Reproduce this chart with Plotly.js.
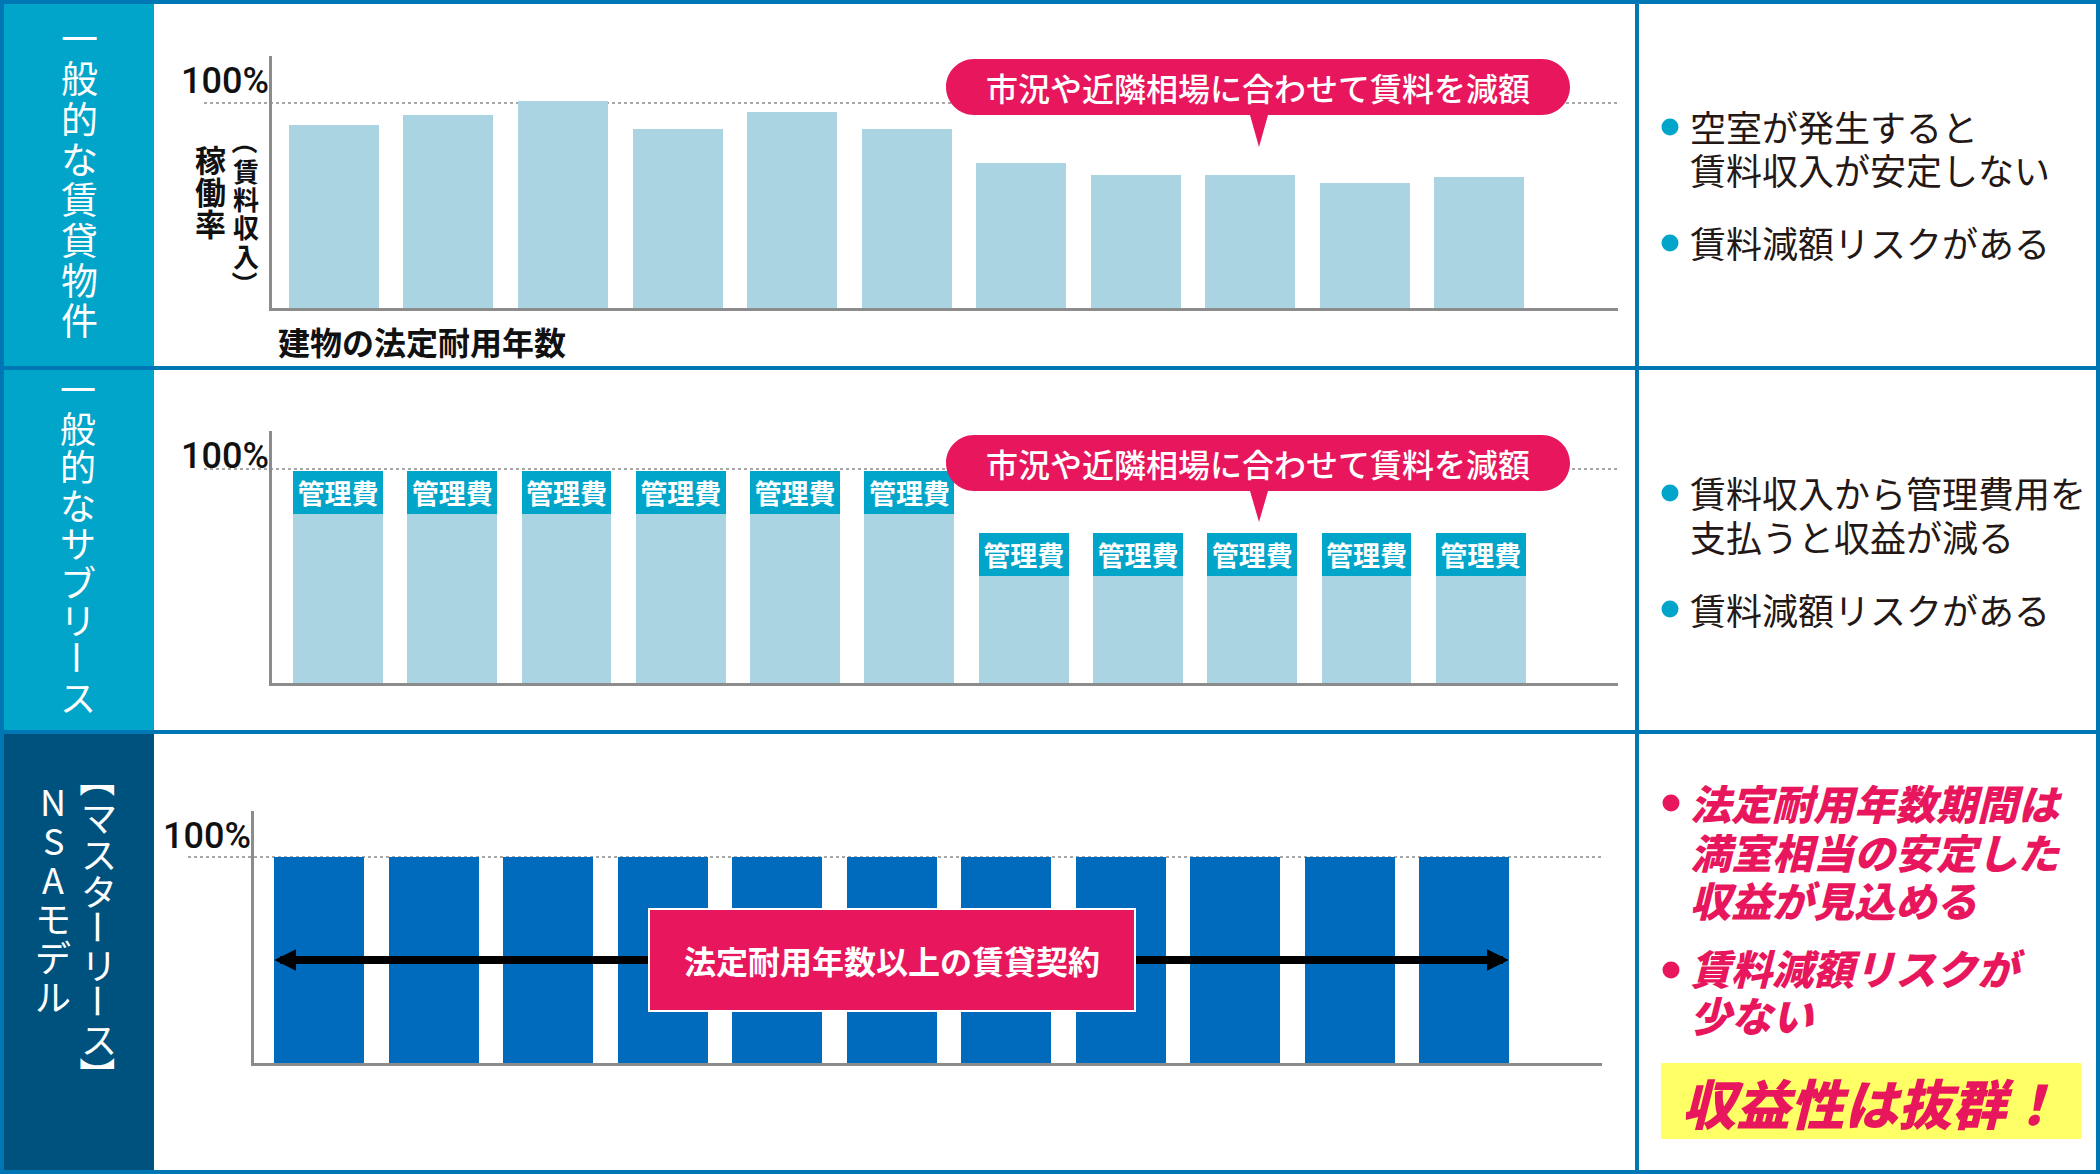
<!DOCTYPE html>
<html>
<head>
<meta charset="utf-8">
<script src="https://cdn.plot.ly/plotly-3.0.1.min.js"></script>
<style>
html,body{margin:0;padding:0;background:#fff;}
#chart{width:2100px;height:1174px;}
</style>
</head>
<body>
<div id="chart"></div>
<script>
// ---------------- data ----------------
const periods = ['1','2','3','4','5','6','7','8','9','10','11'];
const occupancyGeneral = [89.3, 94.1, 101, 87.3, 95.4, 87.3, 70.7, 64.9, 64.9, 61.0, 63.9];
const subleaseNet = [79, 79, 79, 79, 79, 79, 50, 50, 50, 50, 50];
const subleaseFee = [20, 20, 20, 20, 20, 20, 20, 20, 20, 20, 20];
const feeLabel = '管理費';
const masterLease = [100, 100, 100, 100, 100, 100, 100, 100, 100, 100, 100];

const rowTitles = ['一般的な賃貸物件', '一般的なサブリース', '【マスターリース】', 'NSAモデル'];
const yLabelMain = '稼働率';
const yLabelSub = '（賃料収入）';
const xLabel = '建物の法定耐用年数';
const tickLabel100 = '100%';
const bubbleText = '市況や近隣相場に合わせて賃料を減額';
const contractText = '法定耐用年数以上の賃貸契約';
const notes1 = ['空室が発生すると', '賃料収入が安定しない', '賃料減額リスクがある'];
const notes2 = ['賃料収入から管理費用を', '支払うと収益が減る', '賃料減額リスクがある'];
const notes3 = ['法定耐用年数期間は', '満室相当の安定した', '収益が見込める', '賃料減額リスクが', '少ない'];
const highlight = '収益性は抜群！';

// ---------------- style ----------------
const W = 2100, H = 1174;
const JP = '"Noto Sans CJK JP", "Noto Sans", sans-serif';
const C = {
  border: '#0077B5', teal: '#00A5C9', navy: '#00527E', light: '#AAD4E1',
  dark: '#006BBD', pink: '#E8175D', axis: '#8C8C8C', dot: '#A8A8A8', ink: '#231815', yellow: '#FFFF66'
};
const px = v => v / W;
const py = v => 1 - v / H;

// panel geometry (pixels)
const P1 = {x0: 272, x1: 1618, y0: 56, y1: 308, xr: [-0.54, 11.21], yr: [0, 122.9]};
const P2 = {x0: 272, x1: 1618, y0: 431, y1: 683, xr: [-0.577, 11.2], yr: [0, 117.8]};
const P3 = {x0: 254, x1: 1602, y0: 811, y1: 1063, xr: [-0.568, 11.205], yr: [0, 122.3]};
const yPix = (P, v) => P.y1 - (v - P.yr[0]) / (P.yr[1] - P.yr[0]) * (P.y1 - P.y0);

const barW = 0.786;
const traces = [
  {type: 'bar', x: periods, y: occupancyGeneral, xaxis: 'x', yaxis: 'y', width: barW,
   marker: {color: C.light}, hoverinfo: 'skip'},
  {type: 'bar', x: periods, y: subleaseNet, xaxis: 'x2', yaxis: 'y2', width: barW,
   marker: {color: C.light}, hoverinfo: 'skip'},
  {type: 'bar', x: periods, y: subleaseFee, xaxis: 'x2', yaxis: 'y2', width: barW,
   marker: {color: C.teal}, text: periods.map(() => feeLabel), textposition: 'inside',
   insidetextanchor: 'middle', textangle: 0, constraintext: 'none',
   textfont: {family: JP, size: 27, color: '#fff', weight: 'bold'}, hoverinfo: 'skip'},
  {type: 'bar', x: periods, y: masterLease, xaxis: 'x3', yaxis: 'y3', width: barW,
   marker: {color: C.dark}, hoverinfo: 'skip'}
];

function xax(P) {
  return {domain: [px(P.x0), px(P.x1)], range: P.xr, type: 'category', showticklabels: false,
    ticks: '', showgrid: false, zeroline: false, showline: true, linecolor: C.axis, linewidth: 3, fixedrange: true};
}
function yax(P) {
  return {domain: [py(P.y1), py(P.y0)], range: P.yr, showticklabels: false, ticks: '',
    showgrid: false, zeroline: false, showline: true, linecolor: C.axis, linewidth: 3, fixedrange: true};
}

const shapes = [];
const annotations = [];

// backgrounds: sidebars
shapes.push({type: 'rect', xref: 'paper', yref: 'paper', x0: 0, x1: px(154), y0: py(368), y1: 1, fillcolor: C.teal, line: {width: 0}, layer: 'below'});
shapes.push({type: 'rect', xref: 'paper', yref: 'paper', x0: 0, x1: px(154), y0: py(732), y1: py(368), fillcolor: C.teal, line: {width: 0}, layer: 'below'});
shapes.push({type: 'rect', xref: 'paper', yref: 'paper', x0: 0, x1: px(154), y0: 0, y1: py(732), fillcolor: C.navy, line: {width: 0}, layer: 'below'});
// yellow highlight
shapes.push({type: 'rect', xref: 'paper', yref: 'paper', x0: px(1661), x1: px(2081), y0: py(1139), y1: py(1063), fillcolor: C.yellow, line: {width: 0}, layer: 'below'});

// dotted 100% lines
[[P1, 204, 1620], [P2, 204, 1620], [P3, 188, 1602]].forEach(([P, a, b]) => {
  const yy = py(yPix(P, 100));
  shapes.push({type: 'line', xref: 'paper', yref: 'paper', x0: px(a), x1: px(b), y0: yy, y1: yy,
    line: {color: C.dot, width: 2, dash: 'dot'}, layer: 'below'});
});

// frame lines
const bw = 4;
shapes.push({type: 'rect', xref: 'paper', yref: 'paper', x0: px(2), x1: px(W - 2), y0: py(H - 2), y1: py(2), line: {color: C.border, width: bw}, layer: 'above'});
shapes.push({type: 'line', xref: 'paper', yref: 'paper', x0: 0, x1: 1, y0: py(368), y1: py(368), line: {color: C.border, width: bw}, layer: 'above'});
shapes.push({type: 'line', xref: 'paper', yref: 'paper', x0: 0, x1: 1, y0: py(732), y1: py(732), line: {color: C.border, width: bw}, layer: 'above'});
shapes.push({type: 'line', xref: 'paper', yref: 'paper', x0: px(1637), x1: px(1637), y0: 0, y1: 1, line: {color: C.border, width: bw}, layer: 'above'});

// speech bubbles
function bubble(x0, x1, top, bot, tipX, tipY, hb) {
  const r = (bot - top) / 2, k = 0.5523 * r, cy = (top + bot) / 2;
  const P = (x, y) => px(x) + ',' + py(y);
  return 'M' + P(x0 + r, top) + ' L' + P(x1 - r, top) +
    ' C' + P(x1 - r + k, top) + ' ' + P(x1, cy - k) + ' ' + P(x1, cy) +
    ' C' + P(x1, cy + k) + ' ' + P(x1 - r + k, bot) + ' ' + P(x1 - r, bot) +
    ' L' + P(tipX + hb, bot) + ' L' + P(tipX, tipY) + ' L' + P(tipX - hb, bot) +
    ' L' + P(x0 + r, bot) +
    ' C' + P(x0 + r - k, bot) + ' ' + P(x0, cy + k) + ' ' + P(x0, cy) +
    ' C' + P(x0, cy - k) + ' ' + P(x0 + r - k, top) + ' ' + P(x0 + r, top) + ' Z';
}
[[59, 115, 147], [435, 491, 522]].forEach(([t, b, tip]) => {
  shapes.push({type: 'path', xref: 'paper', yref: 'paper', path: bubble(946, 1570, t, b, 1259, tip, 9),
    fillcolor: C.pink, line: {width: 0}, layer: 'above'});
  annotations.push({xref: 'paper', yref: 'paper', x: px(1258), y: py((t + b) / 2), xanchor: 'center', yanchor: 'middle',
    text: bubbleText, showarrow: false, font: {family: JP, size: 32, color: '#fff', weight: 500}});
});

// vertical (tategaki) text: one character per annotation, stacked
const rotChars = 'ー【】（）';
function vtext(str, x, y0, pitch, size, color, weight) {
  Array.from(str).forEach((ch, i) => {
    annotations.push({xref: 'paper', yref: 'paper', x: px(x), y: py(y0 + i * pitch), xanchor: 'center', yanchor: 'middle',
      text: ch, showarrow: false, textangle: rotChars.includes(ch) ? 90 : 0,
      font: {family: JP, size: size, color: color, weight: weight}});
  });
}
vtext(rowTitles[0], 79, 37, 40.3, 37, '#fff', 400);
vtext(rowTitles[1], 78, 388, 38.5, 36, '#fff', 400);
vtext(rowTitles[2], 99, 779, 37, 36, '#fff', 400);
vtext(rowTitles[3], 53, 800, 39, 36, '#fff', 400);
vtext(yLabelMain, 210, 158, 32.5, 31, '#111', 'bold');
vtext(yLabelSub, 246, 141.5, 28.5, 26, '#111', 'bold');

// x label
annotations.push({xref: 'paper', yref: 'paper', x: px(276), y: py(341), xanchor: 'left', yanchor: 'middle',
  text: xLabel, showarrow: false, font: {family: JP, size: 32, color: '#111', weight: 'bold'}});

// 100% labels
[['x', 'y', -1], ['x2', 'y2', -10], ['x3', 'y3', -2]].forEach(([xa, ya, ys]) => {
  annotations.push({xref: xa + ' domain', yref: ya, x: 0, y: 100, xanchor: 'right', yanchor: 'bottom', yshift: ys, xshift: -1,
    text: tickLabel100, showarrow: false, font: {family: 'Roboto, "Liberation Sans", sans-serif', size: 36, color: '#111', weight: 500}});
});

// double arrow + contract box in panel 3
[-0.39, 10.39].forEach(xe => {
  annotations.push({xref: 'x3', yref: 'y3', axref: 'x3', ayref: 'y3', x: xe, y: 50, ax: 5, ay: 50, text: '',
    showarrow: true, arrowhead: 2, arrowsize: 0.54, arrowwidth: 8, arrowcolor: '#000', standoff: 0});
});
annotations.push({xref: 'x3', yref: 'y3', x: 5, y: 50, xanchor: 'center', yanchor: 'middle', text: contractText,
  showarrow: false, width: 484, height: 100, bgcolor: C.pink, bordercolor: '#fff', borderwidth: 2, borderpad: 0,
  font: {family: JP, size: 32, color: '#fff', weight: 'bold'}});

// right column notes
function note(text, x, y, size, color, weight, style) {
  annotations.push({xref: 'paper', yref: 'paper', x: px(x), y: py(y), xanchor: 'left', yanchor: 'middle',
    text: text, showarrow: false, font: {family: JP, size: size, color: color, weight: weight, style: style || 'normal'}});
}
function dot(x, y, d, color) {
  shapes.push({type: 'circle', xref: 'paper', yref: 'paper', x0: px(x - d / 2), x1: px(x + d / 2), y0: py(y + d / 2), y1: py(y - d / 2),
    fillcolor: color, line: {width: 0}, layer: 'above'});
}
dot(1670, 127, 17, C.teal); dot(1670, 243, 17, C.teal);
note(notes1[0], 1688, 126, 36, C.ink, 400);
note(notes1[1], 1688, 169, 36, C.ink, 400);
note(notes1[2], 1688, 242, 36, C.ink, 400);
dot(1670, 493, 17, C.teal); dot(1670, 609, 17, C.teal);
note(notes2[0], 1688, 492, 36, C.ink, 400);
note(notes2[1], 1688, 536, 36, C.ink, 400);
note(notes2[2], 1688, 609, 36, C.ink, 400);
dot(1671, 803, 17, C.pink); dot(1671, 970, 17, C.pink);
note(notes3[0], 1688, 802, 41, C.pink, 900, 'italic');
note(notes3[1], 1688, 851, 41, C.pink, 900, 'italic');
note(notes3[2], 1688, 899, 41, C.pink, 900, 'italic');
note(notes3[3], 1688, 967, 41, C.pink, 900, 'italic');
note(notes3[4], 1688, 1014, 41, C.pink, 900, 'italic');
annotations.push({xref: 'paper', yref: 'paper', x: px(1871), y: py(1101), xanchor: 'center', yanchor: 'middle',
  text: highlight, showarrow: false, font: {family: JP, size: 54, color: C.pink, weight: 900, style: 'italic'}});

const layout = {
  width: W, height: H, margin: {l: 0, r: 0, t: 0, b: 0, pad: 0},
  paper_bgcolor: '#fff', plot_bgcolor: 'rgba(0,0,0,0)',
  showlegend: false, hovermode: false, barmode: 'stack',
  xaxis: Object.assign(xax(P1), {anchor: 'y'}),
  yaxis: Object.assign(yax(P1), {anchor: 'x'}),
  xaxis2: Object.assign(xax(P2), {anchor: 'y2'}),
  yaxis2: Object.assign(yax(P2), {anchor: 'x2'}),
  xaxis3: Object.assign(xax(P3), {anchor: 'y3'}),
  yaxis3: Object.assign(yax(P3), {anchor: 'x3'}),
  shapes: shapes,
  annotations: annotations
};

Plotly.newPlot('chart', traces, layout, {displayModeBar: false, staticPlot: true});
</script>
</body>
</html>
